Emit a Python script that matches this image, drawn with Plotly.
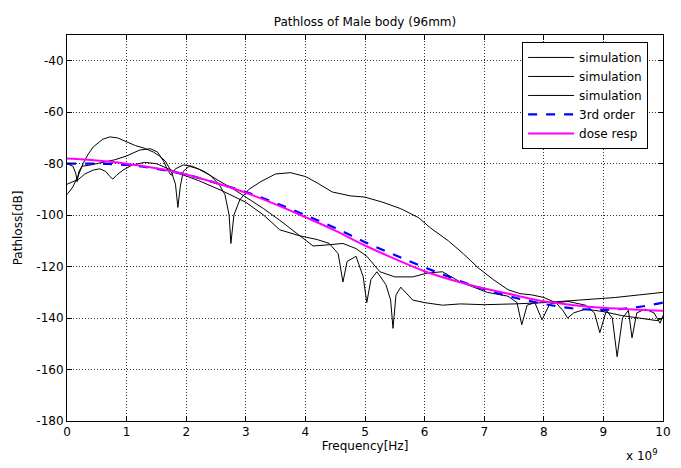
import plotly.graph_objects as go

# ---- data (frequency in units of 1e9 Hz, pathloss in dB) ----
fA = [0, 0.1, 0.2, 0.27, 0.35, 0.44, 0.6, 0.72, 0.85, 1.0, 1.15, 1.3, 1.45, 1.55, 1.65, 1.75, 1.82, 1.86, 1.9,
      1.95, 2.05, 2.2, 2.4, 2.55, 2.65, 2.72, 2.75, 2.8, 2.9, 3.05, 3.25, 3.5, 3.75, 4.0, 4.2, 4.45, 4.75, 5.0,
      5.3, 5.6, 5.9, 6.1, 6.4, 6.65, 6.9, 7.15, 7.4, 7.6, 7.8, 8.0, 8.2, 8.32, 8.4, 8.5, 8.7, 9.0, 9.3, 9.6,
      9.9, 10]
vA = [-92, -89, -84, -80, -76.5, -73.5, -70.5, -69.6, -70, -71.5, -73, -74, -75.5, -77, -79, -83, -88, -97, -89,
      -83, -81, -82, -84.5, -88, -92, -100, -111, -100, -94, -90, -87, -84, -83.5, -85, -87.5, -91, -92.5, -93,
      -95, -97.5, -101, -105, -110, -115, -120.5, -125, -129, -130.5, -131, -132, -134, -137, -140, -138,
      -136.5, -137.5, -139, -140, -141, -140]

fB = [0, 0.1, 0.15, 0.17, 0.2, 0.25, 0.4, 0.6, 0.8, 1.0, 1.1, 1.22, 1.4, 1.52, 1.62, 1.7, 1.75, 1.82, 1.95, 2.1,
      2.3, 2.5, 2.8, 3.0, 3.3, 3.57, 3.85, 4.13, 4.4, 4.63, 4.85, 5.03, 5.25, 5.5, 5.8, 6.05, 6.3, 6.6, 7.05,
      7.4, 7.55, 7.63, 7.72, 7.85, 7.97, 8.1, 8.4, 8.7, 8.85, 8.94, 9.05, 9.15, 9.23, 9.32, 9.42, 9.48, 9.56,
      9.7, 9.85, 9.95, 10]
vB = [-80, -81, -84, -87, -83, -81, -80.5, -79.5, -78.5, -77, -76, -74.7, -74.2, -75.5, -79, -83, -84.5, -82,
      -80.5, -81, -83, -86, -90, -93, -97.5, -102, -107, -112, -111.5, -111, -113, -116, -122, -124, -124,
      -122.5, -122, -126, -130, -131.5, -134, -142.6, -135, -134, -140.7, -134.5, -133.5, -135, -138, -145.7,
      -137, -140, -155, -140, -137, -147.7, -138, -136.5, -138, -142, -139]

fC = [0, 0.1, 0.2, 0.3, 0.44, 0.55, 0.65, 0.72, 0.77, 0.83, 0.94, 1.1, 1.3, 1.5, 1.7, 1.9, 2.2, 2.6, 3.0, 3.3,
      3.57, 3.9, 4.2, 4.4, 4.55, 4.63, 4.7, 4.85, 4.97, 5.03, 5.1, 5.2, 5.35, 5.43, 5.47, 5.52, 5.6, 5.8, 6.0,
      6.3, 6.6, 7.0, 7.5, 8.0, 8.6, 9.2, 9.6, 10]
vC = [-88, -87, -86, -84, -82.5, -82, -83, -85, -86, -84.5, -82.5, -80.5, -79.5, -80, -82, -84, -86.5, -90.5,
      -95, -100, -105.7, -108, -109.5, -111, -115, -126, -118, -116, -124, -134, -125, -122, -127, -133, -144,
      -131, -128, -133, -134, -135, -134.5, -134.8, -134.5, -134, -133, -132, -131, -130]

f_fit = [0, 0.5, 1, 1.5, 2, 2.5, 3, 3.5, 4, 4.5, 5, 5.5, 6, 6.5, 7, 7.5, 8, 8.5, 9, 9.5, 10]
v_3rd = [-80, -80, -80.5, -82, -84.3, -87.5, -91, -95.3, -100, -105, -110.5, -115.5, -120.3, -124.8, -128.8,
         -132, -134.5, -136.3, -136.8, -136, -134]
v_dose = [-78, -78.8, -80, -81.8, -84.2, -87.5, -91.3, -95.8, -100.8, -106, -111.8, -117, -121.8, -125.5,
          -128.5, -131, -133.5, -135, -136, -136.7, -137.2]

x_ticks = list(range(0, 11))
y_ticks = list(range(-180, -39, 20))

FONT = "DejaVu Sans, Verdana, sans-serif"

fig = go.Figure()
for fx, vy in [(fA, vA), (fB, vB), (fC, vC)]:
    fig.add_trace(go.Scatter(x=fx, y=vy, mode="lines", name="simulation",
                             line=dict(color="black", width=1)))
fig.add_trace(go.Scatter(x=f_fit, y=v_3rd, mode="lines", name="3rd order", line_shape="spline",
                         line=dict(color="#0000FF", width=2.2, dash="dash")))
fig.add_trace(go.Scatter(x=f_fit, y=v_dose, mode="lines", name="dose resp", line_shape="spline",
                         line=dict(color="#FF00FF", width=2)))

axis_common = dict(showline=True, linecolor="black", linewidth=1, mirror="ticks", ticks="inside",
                   ticklen=5, tickcolor="black", showgrid=True, gridcolor="#333333", griddash="1px,2px",
                   gridwidth=1, zeroline=False, automargin=False,
                   tickfont=dict(family=FONT, size=12, color="black"))

fig.update_layout(
    width=681, height=468,
    margin=dict(l=67, r=18, t=35, b=47),
    paper_bgcolor="white", plot_bgcolor="white",
    font=dict(family=FONT, size=12, color="black"),
    title=dict(text="Pathloss of Male body (96mm)", x=0.5, xref="paper", xanchor="center",
               yref="container", y=1 - 22 / 468, yanchor="middle",
               font=dict(family=FONT, size=12, color="black")),
    xaxis=dict(range=[0, 10], tickvals=x_ticks, ticktext=[str(t) for t in x_ticks],
               title=dict(text="Frequency[Hz]", standoff=2, font=dict(family=FONT, size=12)),
               **axis_common),
    yaxis=dict(range=[-180, -30], tickvals=y_ticks, ticktext=[str(t) for t in y_ticks],
               title=dict(text="Pathloss[dB]", standoff=11, font=dict(family=FONT, size=12)),
               **axis_common),
    legend=dict(x=0.975, y=0.982, xanchor="right", yanchor="top", bgcolor="white",
                bordercolor="black", borderwidth=1, font=dict(family=FONT, size=12),
                itemwidth=46, tracegroupgap=0),
    showlegend=True,
)
fig.add_annotation(x=0.995, y=-0.088, xref="paper", yref="paper", xanchor="right", yanchor="middle",
                   text="x 10<sup>9</sup>", showarrow=False, font=dict(family=FONT, size=12))

fig.write_html("out.html", config={"displayModeBar": False},
               post_script="document.body.style.margin='0px';")
